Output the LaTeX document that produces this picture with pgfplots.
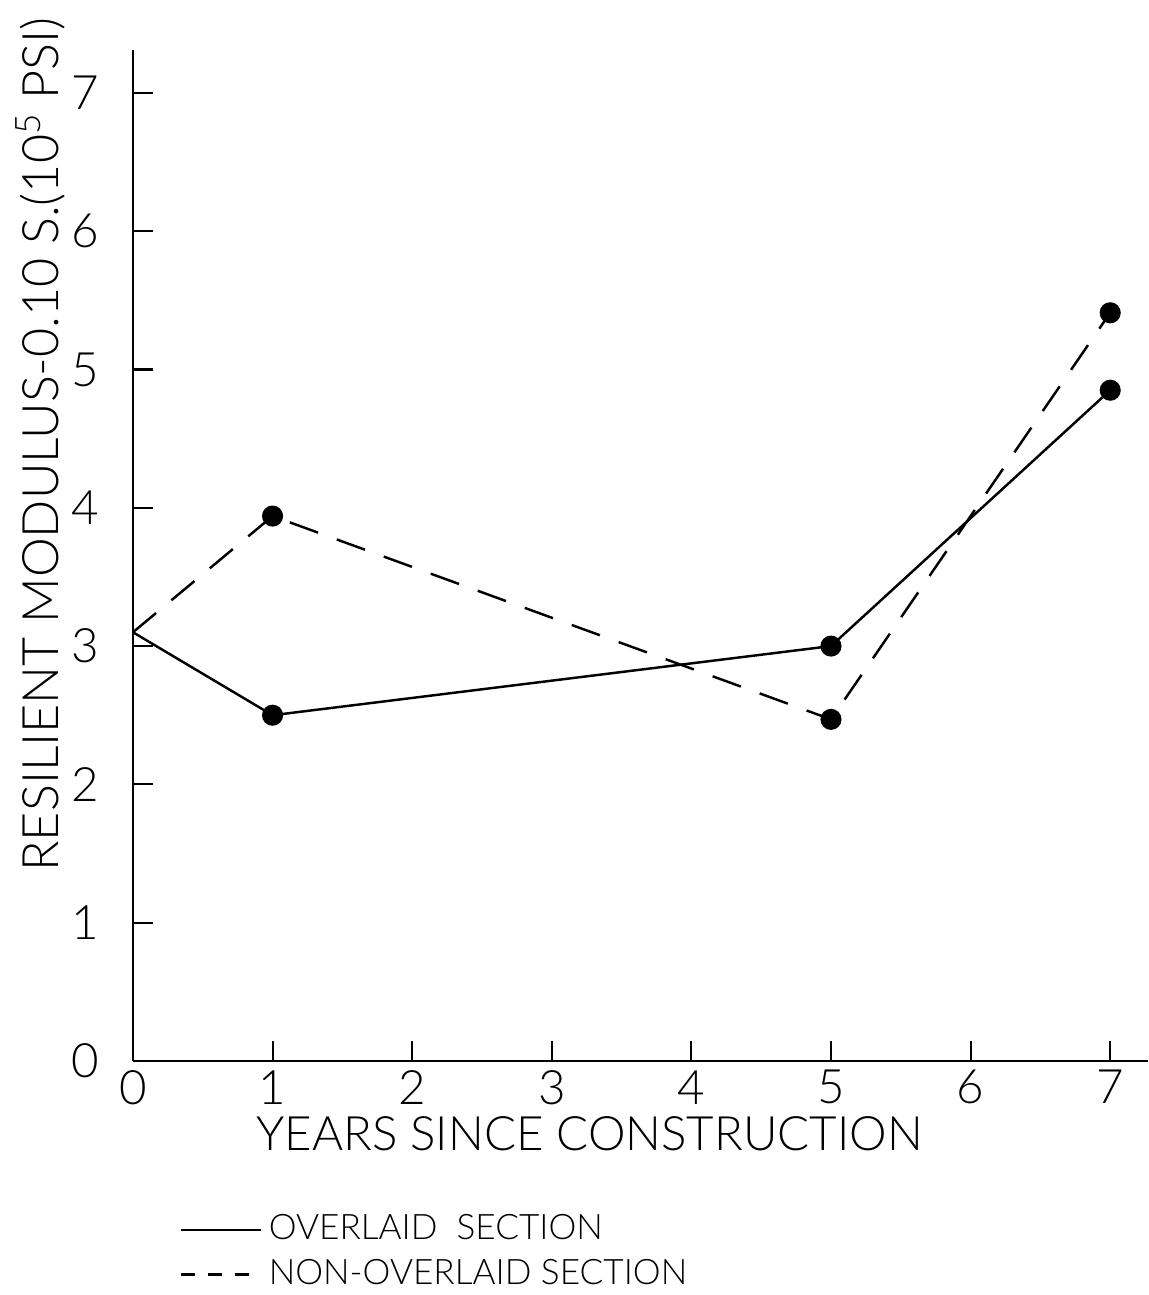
\documentclass[border=0pt]{standalone}
\usepackage{fontspec}
\setmainfont{Lato}[UprightFont=* Light]
\usepackage{pgfplots}
\pgfplotsset{compat=1.18}
\begin{document}
\begin{tikzpicture}
\begin{axis}[
    scale only axis,
    width=10.15cm,
    height=10.11cm,
    xmin=0, xmax=7.27,
    ymin=0, ymax=7.31,
    axis lines=left,
    axis line style={-, line width=0.6pt},
    tick align=inside,
    major tick length=2mm,
    tick style={line width=0.6pt, black},
    xtick={0,...,7},
    ytick={0,...,7},
    ticklabel style={font=\fontsize{13.5}{15}\selectfont},
    /pgf/number format/assume math mode=true,
    yticklabel style={xshift=-2.2mm},
    xticklabel style={yshift=0.3mm},
    xlabel={YEARS SINCE CONSTRUCTION},
    ylabel={RESILIENT MODULUS-0.10 S.(10\textsuperscript{5} PSI)},
    xlabel style={font=\fontsize{13.5}{15}\selectfont,
        at={(axis description cs:0.45,-0.072)}, anchor=center},
    ylabel style={font=\fontsize{14.3}{16}\selectfont,
        at={(axis description cs:-0.091,0.61)}, anchor=center, rotate=0},
    clip=false,
    legend style={
        at={(axis description cs:0.045,-0.148)}, anchor=north west,
        draw=none, fill=none, inner sep=0pt, font=\fontsize{10}{12}\selectfont,
        nodes={inner ysep=1pt}, row sep=0.7mm, legend cell align=left,
    },
    legend image code/.code={\draw[#1] (0cm,0cm) -- (0.8cm,0cm);},
]
% overlaid section
\addplot[black, line width=0.7pt, forget plot] coordinates {
    (0, 3.10) (1, 2.50) (5, 3.00) (7, 4.85)
};
\addplot[only marks, mark=*, mark size=2.8pt, black, forget plot] coordinates {
    (1, 2.50) (5, 3.00) (7, 4.85)
};
% non-overlaid section
\addplot[black, line width=0.7pt, dash pattern=on 3mm off 2mm, forget plot] coordinates {
    (0, 3.10) (1, 3.94) (5, 2.47) (7, 5.41)
};
\addplot[only marks, mark=*, mark size=2.8pt, black, forget plot] coordinates {
    (1, 3.94) (5, 2.47) (7, 5.41)
};
\addlegendimage{black, line width=0.7pt}
\addlegendentry{OVERLAID\ \ SECTION}
\addlegendimage{black, line width=0.7pt, dash pattern=on 1.4mm off 1.3mm}
\addlegendentry{NON-OVERLAID SECTION}
\path (rel axis cs:-0.131,-0.2315) rectangle (rel axis cs:1.001,1.0495);
\end{axis}
\end{tikzpicture}
\end{document}
